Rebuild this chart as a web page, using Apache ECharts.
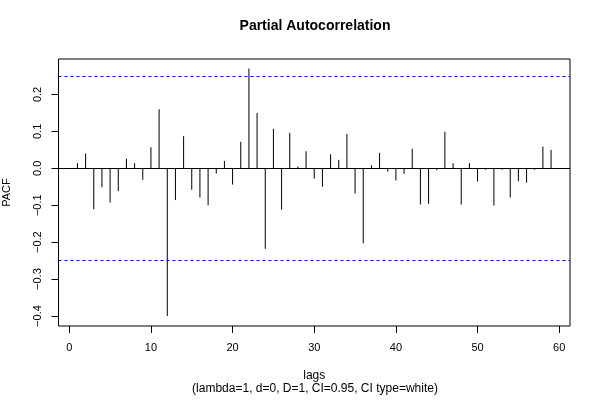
<!DOCTYPE html>
<html>
<head>
<meta charset="utf-8">
<script src="https://cdn.jsdelivr.net/npm/echarts@6/dist/echarts.min.js"></script>
<style>html,body{margin:0;padding:0;background:#fff;}#c{width:600px;height:400px;}</style>
</head>
<body>
<div id="c"></div>
<script>
var lags = [1,2,3,4,5,6,7,8,9,10,11,12,13,14,15,16,17,18,19,20,21,22,23,24,25,26,27,28,29,30,31,32,33,34,35,36,37,38,39,40,41,42,43,44,45,46,47,48,49,50,51,52,53,54,55,56,57,58,59];
var pacf = [0.014,0.040,-0.111,-0.051,-0.093,-0.062,0.026,0.014,-0.031,0.057,
            0.160,-0.400,-0.086,0.087,-0.058,-0.079,-0.100,-0.014,0.020,-0.044,
            0.072,0.270,0.150,-0.218,0.107,-0.112,0.096,0.005,0.046,-0.028,
            -0.050,0.038,0.023,0.093,-0.068,-0.203,0.008,0.042,-0.009,-0.033,
            -0.015,0.053,-0.098,-0.096,-0.005,0.099,0.014,-0.098,0.014,-0.036,
            -0.004,-0.101,-0.004,-0.079,-0.035,-0.039,-0.004,0.059,0.050];
var ciLimit = 0.253;
var xTicks = [0,10,20,30,40,50,60];
var yTicks = [-0.4,-0.3,-0.2,-0.1,0.0,0.1,0.2];
var titleText = 'Partial Autocorrelation';
var xName = 'lags';
var yName = 'PACF';
var subText = '(lambda=1, d=0, D=1, CI=0.95, CI type=white)';

var FONT = '"Liberation Sans", Arial, Helvetica, sans-serif';
var chart = echarts.init(document.getElementById('c'), null, {renderer: 'canvas'});
var data = lags.map(function (l, i) { return [l, pacf[i]]; });

chart.setOption({
  animation: false,
  backgroundColor: '#fff',
  title: {
    text: titleText, left: 310, top: 14, textAlign: 'center',
    textStyle: {fontFamily: FONT, fontSize: 14, fontWeight: 'bold', color: '#000'}
  },
  grid: {left: 58.5, right: 30, top: 59, bottom: 74, show: true, borderColor: '#000', borderWidth: 1,
    backgroundColor: 'transparent', containLabel: false, outerBoundsMode: 'none'},
  xAxis: {
    type: 'value', min: -1.32, max: 61.32,
    name: xName, nameLocation: 'middle', nameGap: 44,
    nameTextStyle: {fontFamily: FONT, fontSize: 12, color: '#000'},
    axisLine: {show: false, onZero: false},
    axisTick: {show: true, customValues: xTicks, length: 7, lineStyle: {color: '#000'}},
    axisLabel: {customValues: xTicks, margin: 16, fontFamily: FONT, fontSize: 11, color: '#000'},
    splitLine: {show: false}
  },
  yAxis: {
    type: 'value', min: -0.427, max: 0.296,
    name: yName, nameLocation: 'middle', nameGap: 46, nameRotate: 90,
    nameTextStyle: {fontFamily: FONT, fontSize: 11, color: '#000'},
    axisLine: {show: false, onZero: false},
    axisTick: {show: true, customValues: yTicks, length: 7, lineStyle: {color: '#000'}},
    axisLabel: {customValues: yTicks, margin: 15, rotate: 90, fontFamily: FONT, fontSize: 11, color: '#000',
      formatter: function (v) { return (v < 0 ? '\u2212' : '') + Math.abs(v).toFixed(1); }},
    splitLine: {show: false}
  },
  graphic: [{
    type: 'text', x: 315, y: 389,
    style: {text: subText, font: '12px ' + FONT, fill: '#000', align: 'center', verticalAlign: 'middle'}
  }],
  series: [{
    type: 'custom',
    data: data,
    renderItem: function (params, api) {
      var x = api.value(0), y = api.value(1);
      var p0 = api.coord([x, 0]);
      var p1 = api.coord([x, y]);
      return {type: 'line', shape: {x1: p0[0], y1: p0[1], x2: p1[0], y2: p1[1]}, style: {stroke: '#000', lineWidth: 1}};
    },
    markLine: {
      silent: true, symbol: 'none', label: {show: false},
      data: [
        {yAxis: 0, lineStyle: {color: '#000', type: 'solid', width: 1}},
        {yAxis: ciLimit, lineStyle: {color: '#0000ff', type: [3, 3], width: 1}},
        {yAxis: -ciLimit, lineStyle: {color: '#0000ff', type: [3, 3], width: 1}}
      ]
    }
  }]
});
</script>
</body>
</html>
